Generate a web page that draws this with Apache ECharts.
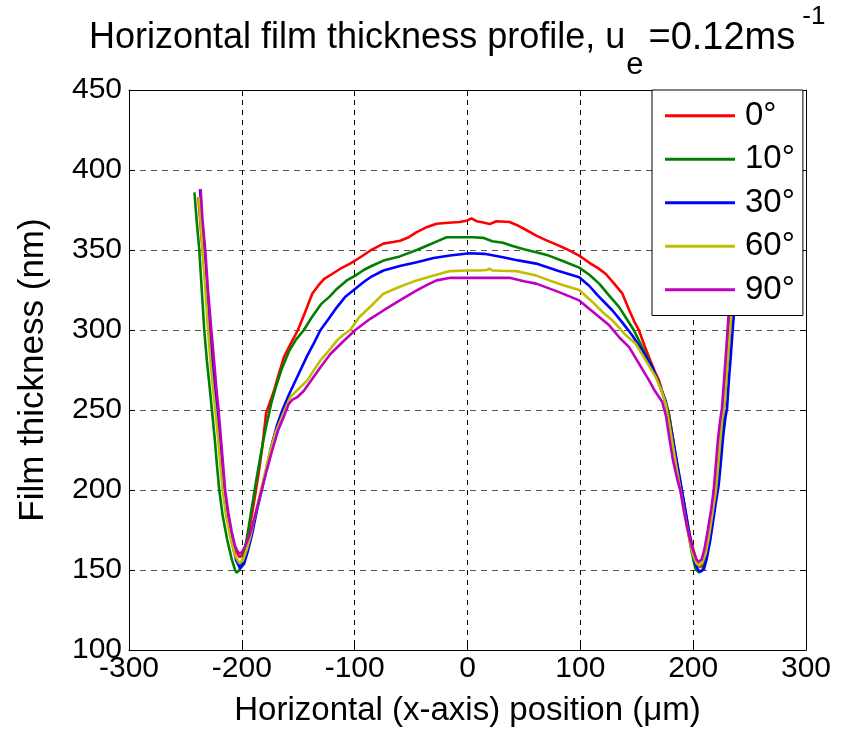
<!DOCTYPE html>
<html>
<head>
<meta charset="utf-8">
<script src="https://cdn.jsdelivr.net/npm/echarts@6/dist/echarts.min.js"></script>
<style>html,body{margin:0;padding:0;background:#fff}#c{width:852px;height:734px}</style>
</head>
<body>
<div id="c"></div>
<script>
const seriesNames = ['0°', '10°', '30°', '60°', '90°'];
const xTicks = [-300, -200, -100, 0, 100, 200, 300];
const yTicks = [100, 150, 200, 250, 300, 350, 400, 450];

const deg0 = [
[-238.5,383],[-236,360],[-233.5,340],[-231,320],[-228.5,300],[-226,280],[-223.5,262],[-221,243],[-218.5,222],[-216,203],[-213,186],[-210,173],[-206,163],[-202,158],[-199,160],[-196,167],[-193,177],[-190,189],[-187.5,200],[-185,211],[-182,226],[-178.5,248],[-175,255],[-171.5,262],[-167,273],[-162.7,283],[-157,291],[-150.3,300],[-144,311],[-137.6,322.7],[-132,328],[-127,332],[-120,335],[-112.7,338.3],[-104,341.5],[-96,345],[-86,349.7],[-80,352],[-74.5,354],[-66,355],[-59.7,355.8],[-52,358],[-45,361.2],[-37,364],[-27.4,366.4],[-17,367],[-7,367.5],[0,368.5],[3.5,369.8],[8,368],[14,367.2],[19.7,366.2],[25.6,368],[37.3,367.5],[44,365.5],[52,362.5],[60.9,359],[70,356],[78.5,353.5],[88,350.5],[99,346.5],[108,342],[116,338.5],[122.6,335],[130,329],[137.3,322.7],[143,313],[148,305],[152,299.7],[157,290],[162,281],[166,274],[169.7,268.5],[174,258],[178.5,248],[181,237],[183.5,226],[186,215],[188.5,205],[191,195],[194,183],[197,172],[200,163],[203,156],[206,152],[209,153],[212,160],[215,172],[218,188],[220,200],[222,214],[224,230],[226,247],[228,265],[230,284],[232,303],[234,322],[236.5,350],[239,378],[240.5,388]
];
const deg10 = [
[-242,386],[-240,368],[-237.7,350],[-235.5,325],[-233.3,300],[-231,281],[-228.5,264],[-226.5,250],[-224,232],[-222,215],[-220,200],[-217,184],[-213,169],[-209,157],[-206,150],[-204.7,148.3],[-202,150],[-199,157],[-196,168],[-193,181],[-190,194],[-187.5,205],[-185,215],[-182,227],[-179,238],[-176.5,246],[-174,254],[-170,264],[-165,275],[-158,287],[-152,294],[-145,300],[-138,308],[-130,316],[-122,321],[-115.6,325.8],[-107,331],[-99.4,334],[-92,337.5],[-86,339.7],[-74.5,343.4],[-60,346],[-45,350],[-35,353],[-25,356],[-18.5,358],[-5,358],[5,358],[13.8,357.6],[22,355.5],[31.4,354.5],[40,352.5],[50,350.5],[60.9,348.6],[72,346.5],[85,343],[99,339],[108,334.5],[116.7,329],[125,322],[134.4,314.3],[141,307],[147.6,299.7],[155,289],[163.8,276.8],[170,266],[175.6,256],[179,245],[182,232],[185,218],[188,206],[190,199],[193,186],[196,172],[199,160],[202,151],[205,148.5],[208,150],[211,156],[214,167],[217,181],[219.5,195],[221.5,205],[223.5,220],[225.5,236],[227.5,252],[229.5,270],[231.5,287],[233,302],[235,320],[237.5,345],[239.5,370],[241,387]
];
const deg30 = [
[-237,388],[-235.5,370],[-233.5,350],[-231.5,325],[-229.5,300],[-227,281],[-224.5,263],[-222.5,250],[-220,232],[-218,215],[-216,200],[-213,184],[-209,168],[-205,156],[-201.5,151],[-198,154],[-195,161],[-191,172],[-187,186],[-182.4,200],[-178,214],[-174,227],[-169,240],[-164,250],[-158,260],[-150,272],[-142,284],[-136,292],[-130.3,300],[-123,307],[-116,314],[-108,321],[-99.4,325.8],[-92,330],[-86,333],[-74.5,337.2],[-60,340],[-45,342.4],[-30,345],[-15.6,346.6],[2,348],[15,347.6],[31.4,345.5],[45,343.5],[60.9,341.5],[80,337],[99,333],[108,327.5],[115,322],[128.5,312.2],[138,304],[146.1,296.6],[155,287],[163.8,276.8],[170,266],[175.6,255],[178,246],[181,236],[184,224],[187,212],[190,200],[193,188],[196,175],[199,163],[202,154],[204.5,150],[206.5,148.9],[209.5,150.5],[212,157],[215,168],[218,182],[220.5,194],[222.6,203],[224.5,217],[226.5,233],[228.5,245],[230,251],[231.8,270],[233.5,285],[235,300],[236.7,315],[239,340],[241,365],[243,388]
];
const deg60 = [
[-238,383],[-236,362],[-234,342],[-232,322],[-230,301],[-228,282],[-225.5,263],[-223.5,250],[-221,232],[-219,215],[-217,200],[-214,184],[-210,170],[-206,159],[-202.4,154.5],[-199,156],[-196,162],[-192,172],[-189,182],[-186,191],[-183,200],[-179,212],[-175,224],[-170,236],[-166,243],[-162,250],[-157,258],[-150,263],[-142,268.5],[-136,275],[-130.3,281],[-123,287],[-115.6,293.5],[-110,297],[-104,300],[-96,308],[-86,314.7],[-74.5,322.7],[-60,327],[-45,331],[-30,334],[-15.6,336.8],[0,337.2],[10,337.2],[17,337.5],[19.7,338.3],[22,337.2],[30,337],[43.2,336.8],[52,335.5],[60.9,334],[72.6,331],[85,328],[99,325],[110,318],[120,311],[128.5,306],[140,297],[149.1,291.4],[158,281],[166.8,270.6],[172,262],[175.6,254],[179,241],[182,228],[185,215],[188,203],[191,191],[194,179],[197,168],[200,159],[203,154],[205.5,152.8],[208,154.5],[211,160],[214,171],[217,185],[220.2,200],[222,214],[224,231],[225.8,245],[227.5,251],[229.5,270],[231,285],[232.7,300],[234.2,315],[236.5,340],[238.8,365],[240.8,388]
];
const deg90 = [
[-236.5,388],[-235,370],[-232.4,350],[-230,325],[-227,300],[-224.5,280],[-222.5,263],[-220.6,250],[-218.5,232],[-216.5,215],[-214.8,200],[-212,186],[-209,174],[-206,165],[-203,160.4],[-200,161],[-197,165],[-193,172],[-189,182],[-185,193],[-182,201],[-178,212],[-173,225],[-168,237],[-162.7,246],[-158.3,254],[-155,256.5],[-150.9,258],[-145,262],[-140,267],[-130,277],[-121.5,285],[-110,293],[-99.4,300],[-86.2,307],[-74.5,312.2],[-60,318.5],[-45,324.7],[-35,328.5],[-27.4,331],[-15,332.6],[-0.9,332.6],[15,332.6],[37.3,332.6],[50,330.5],[60.9,329],[80,324],[99,318.5],[110,312],[125.6,302.9],[135,295],[143.2,289.3],[152,279],[160.9,268.5],[166,262],[172.6,255],[176,246],[179,232],[182,219],[185.5,208],[188.8,199],[191.5,188],[194.5,177],[197.5,168],[200.5,161],[203,156.5],[205,155.1],[207.5,156.5],[210,163],[213,175],[216,188],[218.2,200],[220,215],[222,232],[224,244],[225.5,251],[227.5,270],[229,285],[230.5,300],[231.8,315],[234,340],[236.5,365],[238.5,388]
];
const seriesData = [deg0, deg10, deg30, deg60, deg90];
const colors = ['#ff0000', '#008000', '#0000ff', '#bfbf00', '#bf00bf'];

const FONT = 'Liberation Sans';
const chart = echarts.init(document.getElementById('c'), null, {renderer: 'canvas'});
const series = seriesData.map((d, i) => ({
  name: seriesNames[i],
  type: 'line',
  data: d,
  showSymbol: false,
  symbol: 'none',
  smooth: false,
  lineStyle: {color: colors[i], width: 2.6},
  itemStyle: {color: colors[i]},
  z: 2,
  animation: false
}));

const tickAxis = {
  axisLine: {show: true, onZero: false, lineStyle: {color: '#000', width: 1}},
  axisTick: {show: true, inside: true, length: 6, lineStyle: {color: '#000'}}
};

const option = {
  animation: false,
  backgroundColor: '#fff',
  title: {
    text: '{a|Horizontal film thickness profile, u}{sub|e}{b|=0.12ms}{sup|-1}',
    left: 89,
    top: -2,
    padding: 0,
    textStyle: {
      rich: {
        a: {fontFamily: FONT, fontWeight: 'normal', fontSize: 36, color: '#000', lineHeight: 40, verticalAlign: 'top', padding: [22, 0, 0, 0]},
        b: {fontFamily: FONT, fontWeight: 'normal', fontSize: 38, color: '#000', lineHeight: 40, verticalAlign: 'top', padding: [22, 0, 0, 3]},
        sub: {fontFamily: FONT, fontWeight: 'normal', fontSize: 31, color: '#000', lineHeight: 40, verticalAlign: 'top', padding: [52, 2, 0, 1]},
        sup: {fontFamily: FONT, fontWeight: 'normal', fontSize: 26, color: '#000', lineHeight: 40, verticalAlign: 'top', padding: [6, 0, 0, 7]}
      }
    }
  },
  legend: {
    data: seriesNames,
    orient: 'vertical',
    left: 652,
    top: 90,
    width: 154,
    padding: [4, 8, 4, 13],
    itemGap: 0,
    itemWidth: 70,
    itemHeight: 3,
    icon: 'rect',
    backgroundColor: '#fff',
    borderColor: '#000',
    borderWidth: 1,
    borderRadius: 0,
    z: 10,
    textStyle: {fontFamily: FONT, fontSize: 33, color: '#000', lineHeight: 43.5, padding: [0, 0, 0, 5]}
  },
  grid: {left: 129, right: 46, top: 90, bottom: 84, containLabel: false},
  xAxis: [Object.assign({
    type: 'value', min: -300, max: 300, interval: 100,
    name: 'Horizontal (x-axis) position (μm)',
    nameLocation: 'middle', nameGap: 44,
    nameTextStyle: {fontFamily: FONT, fontSize: 33, color: '#000'},
    axisLabel: {fontFamily: FONT, fontSize: 30, color: '#000', margin: 4},
    splitLine: {show: true, lineStyle: {color: '#000', type: [5, 5], width: 1}}
  }, tickAxis), Object.assign({
    type: 'value', min: -300, max: 300, interval: 100, position: 'top',
    axisLabel: {show: false}, splitLine: {show: false}
  }, tickAxis)],
  yAxis: [Object.assign({
    type: 'value', min: 100, max: 450, interval: 50,
    name: 'Film thickness (nm)',
    nameLocation: 'middle', nameGap: 78, nameRotate: 90,
    nameTextStyle: {fontFamily: FONT, fontSize: 35, color: '#000'},
    axisLabel: {fontFamily: FONT, fontSize: 30, color: '#000', margin: 7},
    splitLine: {show: true, lineStyle: {color: '#555', type: [6, 5], width: 1}}
  }, tickAxis), Object.assign({
    type: 'value', min: 100, max: 450, interval: 50, position: 'right',
    axisLabel: {show: false}, splitLine: {show: false}
  }, tickAxis)],
  series: series
};
chart.setOption(option);
</script>
</body>
</html>
